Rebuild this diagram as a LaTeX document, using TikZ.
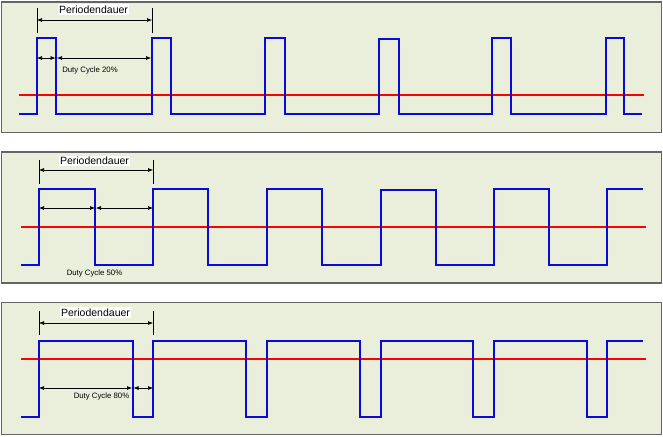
\documentclass[tikz,border=0pt]{standalone}
\usepackage{fontspec}
\setmainfont{Liberation Sans}
\usepackage{tikz}
\usetikzlibrary{arrows.meta}
\definecolor{panelfill}{RGB}{234,239,220}
\definecolor{panelline}{RGB}{100,100,100}
\definecolor{sigblue}{RGB}{10,10,215}

\begin{document}
\begin{tikzpicture}[x=1pt, y=-1pt,
panel/.style =
  {draw=panelline, fill=panelfill,
   line width=1.5pt},
signal/.style =
  {draw=sigblue, line width=1.8pt},
mean/.style =
  {draw=red, line width=1.3pt},
marker/.style =
  {draw=black, line width=0.6pt},
dim/.style =
  {{Latex[length=5pt,width=4pt]}-{Latex[length=5pt,width=4pt]},
   line width=0.6pt},
periodlabel/.style =
  {fill=white, inner sep=1.5pt, font=\fontsize{10.5}{12}\selectfont},
dutylabel/.style =
  {inner sep=0pt, font=\fontsize{7.8}{9}\selectfont}
]
\useasboundingbox (0,0) rectangle (663,436);

%Panel 20%
\draw[panel] (1.5,2) rectangle (661.5,132.5);
\draw[mean] (19,95) -- (644,95);
\draw[signal] (19,114) -| (37,38) -| (56,114) -| (152,38) -| (171,114)
  -| (265,38) -| (285,114) -| (379,39) -| (399,114) -| (492,38) -| (511,114)
  -| (606,38) -| (624,114) -- (642,114);
\coordinate (tA1) at (37,8);
\coordinate (tB1) at (152,8);
\draw[marker] (tA1) -- ++(0,25);
\draw[marker] (tB1) -- ++(0,25);
\coordinate (pA1) at (37,20);
\coordinate (pB1) at (152,20);
\draw[dim] (pA1) -- (pB1);
\node[periodlabel] (period1) at (93.5,9.5) {Periodendauer};
\coordinate (dA1) at (37,58);
\coordinate (dM1) at (55.5,58);
\coordinate (dN1) at (57,58);
\coordinate (dB1) at (151,58);
\draw[dim] (dA1) -- (dM1);
\draw[dim] (dN1) -- (dB1);
\node[dutylabel] (duty1) at (90,70) {Duty Cycle 20\%};

%Panel 50%
\draw[panel] (1.5,152) rectangle (661.5,283);
\draw[mean] (21,227) -- (646,227);
\draw[signal] (21,265) -| (39,189) -| (95,265) -| (153,189) -| (208,265)
  -| (267,189) -| (322,265) -| (381,190) -| (436,265) -| (494,189) -| (549,265)
  -| (607,189) -- (643,189);
\coordinate (tA2) at (39,160);
\coordinate (tB2) at (153,160);
\draw[marker] (tA2) -- ++(0,24);
\draw[marker] (tB2) -- ++(0,24);
\coordinate (pA2) at (39,170);
\coordinate (pB2) at (153,170);
\draw[dim] (pA2) -- (pB2);
\node[periodlabel] (period2) at (94.5,161) {Periodendauer};
\coordinate (dA2) at (39,208);
\coordinate (dM2) at (95,208);
\coordinate (dN2) at (96,208);
\coordinate (dB2) at (153,208);
\draw[dim] (dA2) -- (dM2);
\draw[dim] (dN2) -- (dB2);
\node[dutylabel] (duty2) at (94.5,273.5) {Duty Cycle 50\%};

%Panel 80%
\draw[panel] (1.5,302.5) rectangle (661.5,434.5);
\draw[mean] (21,359) -- (646,359);
\draw[signal] (21,417) -| (39,341) -| (133,417) -| (153,341) -| (246,417)
  -| (267,341) -| (360,417) -| (381,341) -| (473,417) -| (494,341) -| (587,417)
  -| (607,341) -- (643,341);
\coordinate (tA3) at (39,311);
\coordinate (tB3) at (153,311);
\draw[marker] (tA3) -- ++(0,24);
\draw[marker] (tB3) -- ++(0,24);
\coordinate (pA3) at (39,323);
\coordinate (pB3) at (153,323);
\draw[dim] (pA3) -- (pB3);
\node[periodlabel] (period3) at (95.5,312.5) {Periodendauer};
\coordinate (dA3) at (39,388);
\coordinate (dM3) at (132,388);
\coordinate (dN3) at (133.5,388);
\coordinate (dB3) at (153,388);
\draw[dim] (dA3) -- (dM3);
\draw[dim] (dN3) -- (dB3);
\node[dutylabel] (duty3) at (101.5,396.5) {Duty Cycle 80\%};
\end{tikzpicture}
\end{document}
